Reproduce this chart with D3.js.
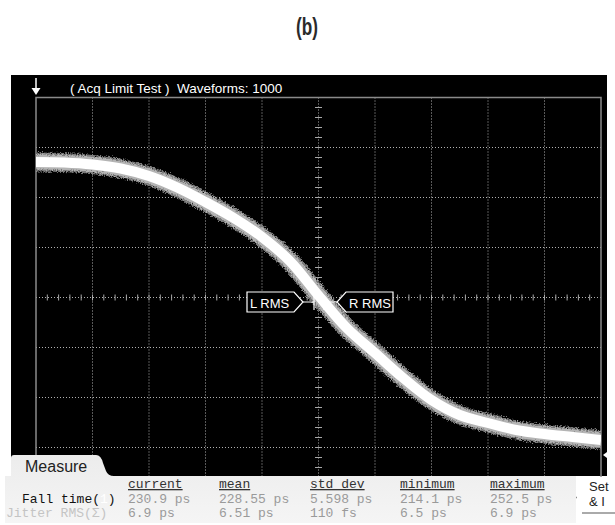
<!DOCTYPE html>
<html>
<head>
<meta charset="utf-8">
<script src="https://cdn.jsdelivr.net/npm/d3@7"></script>
<style>
  body { margin: 0; background: #fff; }
  svg { display: block; }
  .mono { font-family: "Liberation Mono", "DejaVu Sans Mono", monospace; }
</style>
</head>
<body>
<svg width="615" height="525"></svg>
<script>
// waveform in divisions (x: -5..5, y: -4..4)
var timeDivs = [-5, -4.5, -4, -3.5, -3, -2.5, -2, -1.5, -1, -0.5, 0,
                0.5, 1, 1.5, 2, 2.5, 3, 3.5, 4, 4.5, 5];
var levelDivs = [2.71, 2.70, 2.66, 2.58, 2.43, 2.20, 1.91, 1.59, 1.21, 0.72, 0.04,
                 -0.61, -1.11, -1.61, -2.05, -2.35, -2.51, -2.65, -2.73, -2.79, -2.85];

var columns = ["current", "mean", "std dev", "minimum", "maximum"];
var fallTime = ["230.9 ps", "228.55 ps", "5.598 ps", "214.1 ps", "252.5 ps"];
var jitterRms = ["6.9 ps", "6.51 ps", "110 fs", "6.5 ps", "6.9 ps"];

var svg = d3.select("svg");

var defs = svg.append("defs");
var fuzz = defs.append("filter").attr("id", "fuzz")
    .attr("x", "-10%").attr("y", "-10%").attr("width", "120%").attr("height", "120%");
fuzz.append("feTurbulence").attr("type", "fractalNoise")
    .attr("baseFrequency", "0.8").attr("numOctaves", 2).attr("seed", 3)
    .attr("result", "noise");
fuzz.append("feDisplacementMap").attr("in", "SourceGraphic").attr("in2", "noise")
    .attr("scale", 6).attr("xChannelSelector", "R").attr("yChannelSelector", "G");
defs.append("clipPath").attr("id", "screen-clip")
  .append("rect").attr("x", 36).attr("y", 97.5).attr("width", 565).attr("height", 400);

// title
svg.append("text")
    .attr("transform", "translate(307,35) scale(0.78,1.1)")
    .attr("text-anchor", "middle")
    .style("font-family", "'Liberation Sans', Arial, sans-serif")
    .style("font-weight", "bold")
    .style("font-size", "22px")
    .style("fill", "#2a2a2a")
    .text("(b)");

// scope screen
svg.append("rect")
    .attr("x", 11).attr("y", 75).attr("width", 596).attr("height", 401)
    .attr("fill", "#000");

var x = d3.scaleLinear().domain([-5, 5]).range([36, 601]),
    y = d3.scaleLinear().domain([-4, 4]).range([497.5, 97.5]);

var g = svg.append("g");

// header
g.append("text")
    .attr("x", 70).attr("y", 93)
    .style("font-family", "'Liberation Sans', Arial, sans-serif")
    .style("font-size", "13.5px")
    .style("fill", "#fff")
    .attr("xml:space", "preserve")
    .text("( Acq Limit Test )  Waveforms: 1000");
g.append("line")
    .attr("x1", 36).attr("x2", 36).attr("y1", 78).attr("y2", 92)
    .attr("stroke", "#fff").attr("stroke-width", 1.5);
g.append("path")
    .attr("d", "M31.5,88 L40.5,88 L36,95 Z")
    .attr("fill", "#fff");

// grid
var grid = g.append("g").attr("class", "grid");
grid.selectAll(".vgrid").data(d3.range(-4, 5))
  .enter().append("line")
    .attr("class", "vgrid")
    .attr("x1", function(d) { return x(d); })
    .attr("x2", function(d) { return x(d); })
    .attr("y1", y(4)).attr("y2", y(-4))
    .attr("stroke", "#b0b0b0").attr("stroke-width", 1)
    .attr("stroke-dasharray", "1,2");
grid.selectAll(".hgrid").data(d3.range(-3, 4))
  .enter().append("line")
    .attr("class", "hgrid")
    .attr("y1", function(d) { return y(d); })
    .attr("y2", function(d) { return y(d); })
    .attr("x1", x(-5)).attr("x2", x(5))
    .attr("stroke", "#b0b0b0").attr("stroke-width", 1)
    .attr("stroke-dasharray", "1,2");

// minor ticks on the centre lines
grid.selectAll(".xminor").data(d3.range(-24, 25).map(function(i) { return i / 5; }))
  .enter().append("line")
    .attr("class", "xminor")
    .attr("x1", function(d) { return x(d); })
    .attr("x2", function(d) { return x(d); })
    .attr("y1", y(0) - 3).attr("y2", y(0) + 3)
    .attr("stroke", "#a8a8a8");
grid.selectAll(".yminor").data(d3.range(-19, 20).map(function(i) { return i / 5; }))
  .enter().append("line")
    .attr("class", "yminor")
    .attr("y1", function(d) { return y(d); })
    .attr("y2", function(d) { return y(d); })
    .attr("x1", x(0) - 3.5).attr("x2", x(0) + 3.5)
    .attr("stroke", "#a8a8a8");

g.append("rect")
    .attr("x", x(-5)).attr("y", y(4))
    .attr("width", x(5) - x(-5)).attr("height", y(-4) - y(4))
    .attr("fill", "none").attr("stroke", "#8a8a8a").attr("stroke-width", 1.5);

// waveform band: speckled grey fringe around a white core
var pts = timeDivs.map(function(t, i) { return [t, levelDivs[i]]; });
var line = d3.line()
    .x(function(d) { return x(d[0]); })
    .y(function(d) { return y(d[1]); })
    .curve(d3.curveCatmullRom);
var wave = g.append("g").attr("clip-path", "url(#screen-clip)");
wave.append("path").datum(pts).attr("d", line)
    .attr("fill", "none").attr("stroke", "#7a7a7a").attr("stroke-width", 19)
    .attr("filter", "url(#fuzz)");
wave.append("path").datum(pts).attr("d", line)
    .attr("fill", "none").attr("stroke", "#b4b4b4").attr("stroke-width", 15)
    .attr("filter", "url(#fuzz)");
wave.append("path").datum(pts).attr("d", line)
    .attr("fill", "none").attr("stroke", "#fff").attr("stroke-width", 10);

// RMS window markers
var mk = g.append("g").attr("class", "markers");
mk.append("path")
    .attr("d", "M247,292 L294,292 L303,302 L294,312 L247,312 Z")
    .attr("fill", "#000").attr("stroke", "#fff").attr("stroke-width", 1.2);
mk.append("path")
    .attr("d", "M393,292 L346,292 L337,302 L346,312 L393,312 Z")
    .attr("fill", "#000").attr("stroke", "#fff").attr("stroke-width", 1.2);
mk.append("line").attr("x1", 303).attr("x2", 314).attr("y1", 302).attr("y2", 302)
    .attr("stroke", "#fff");
mk.append("line").attr("x1", 325).attr("x2", 337).attr("y1", 302).attr("y2", 302)
    .attr("stroke", "#fff");
mk.append("line").attr("x1", 314).attr("x2", 314).attr("y1", 296).attr("y2", 310)
    .attr("stroke", "#fff").attr("stroke-width", 1.2);
mk.append("line").attr("x1", 324).attr("x2", 324).attr("y1", 296).attr("y2", 310)
    .attr("stroke", "#fff").attr("stroke-width", 1.2);
mk.selectAll("text").data([["L RMS", 250], ["R RMS", 349]])
  .enter().append("text")
    .attr("x", function(d) { return d[1]; }).attr("y", 307.5)
    .style("font-family", "'Liberation Sans', Arial, sans-serif")
    .style("font-size", "13px")
    .style("fill", "#fff")
    .text(function(d) { return d[0]; });

// ground marker on the right edge
g.append("path").attr("d", "M603,455 L607,452 L607,458 Z").attr("fill", "#fff");
g.append("line").attr("x1", 606).attr("x2", 611).attr("y1", 455).attr("y2", 455)
    .attr("stroke", "#fff");

// measure panel
var panel = svg.append("g");
var grad = defs.append("linearGradient").attr("id", "panel-grad")
    .attr("x1", 0).attr("x2", 0).attr("y1", 0).attr("y2", 1);
grad.append("stop").attr("offset", "0%").attr("stop-color", "#ececec");
grad.append("stop").attr("offset", "100%").attr("stop-color", "#f5f5f5");
panel.append("path")
    .attr("d", "M5,476 L11,476 L11,458 Q11,455 14,455 L96,455 Q101,455 103,463 L106,471 Q108,476 114,476 L576,476 L576,523 L5,523 Z")
    .attr("fill", "url(#panel-grad)");
panel.append("text")
    .attr("x", 25).attr("y", 472)
    .style("font-family", "'Liberation Sans', Arial, sans-serif")
    .style("font-size", "16px")
    .style("fill", "#222")
    .text("Measure");

var colX = [128, 219, 310, 400, 490];
panel.selectAll(".colhead").data(columns)
  .enter().append("text")
    .attr("class", "colhead mono")
    .attr("x", function(d, i) { return colX[i]; })
    .attr("y", 488)
    .style("font-size", "13px")
    .style("fill", "#333")
    .style("text-decoration", "underline")
    .text(function(d) { return d; });

var fall = panel.append("text").attr("class", "mono")
    .attr("x", 22).attr("y", 503)
    .style("font-size", "13px").style("fill", "#111");
fall.append("tspan").text("Fall time(");
fall.append("tspan").style("fill", "#fff").text("1");
fall.append("tspan").text(")");
panel.append("text").attr("class", "mono")
    .attr("x", 6).attr("y", 517)
    .style("font-size", "13px").style("fill", "#c4c4c4")
    .text("Jitter RMS(\u03a3)");

panel.selectAll(".fall").data(fallTime)
  .enter().append("text")
    .attr("class", "fall mono")
    .attr("x", function(d, i) { return colX[i]; })
    .attr("y", 503)
    .style("font-size", "13px").style("fill", "#9a9a9a")
    .text(function(d) { return d; });
panel.selectAll(".jit").data(jitterRms)
  .enter().append("text")
    .attr("class", "jit mono")
    .attr("x", function(d, i) { return colX[i]; })
    .attr("y", 517)
    .style("font-size", "13px").style("fill", "#9a9a9a")
    .text(function(d) { return d; });

// setup button, only its left part is on screen
panel.append("rect")
    .attr("x", 577).attr("y", 477).attr("width", 40).attr("height", 36)
    .attr("fill", "#fff");
panel.append("line")
    .attr("x1", 582).attr("x2", 615).attr("y1", 513).attr("y2", 513)
    .attr("stroke", "#aaa").attr("stroke-width", 2);
panel.selectAll(".setup").data([["Set", 491], ["& I", 506]])
  .enter().append("text")
    .attr("class", "setup")
    .attr("x", 589).attr("y", function(d) { return d[1]; })
    .style("font-family", "'Liberation Sans', Arial, sans-serif")
    .style("font-size", "13px")
    .style("fill", "#222")
    .text(function(d) { return d[0]; });
</script>
</body>
</html>
